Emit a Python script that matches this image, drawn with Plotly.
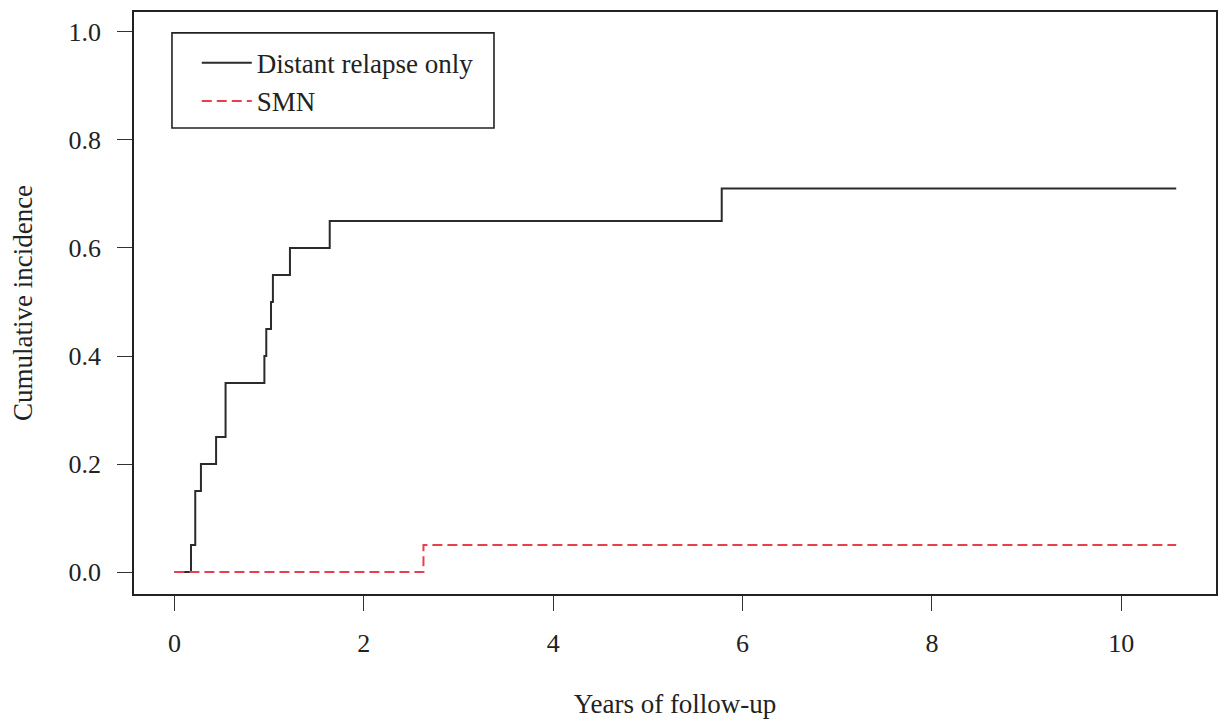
import plotly.graph_objects as go

# Data
relapse_time = [0, 0.175, 0.22, 0.28, 0.44, 0.54, 0.95, 0.97, 1.02, 1.04, 1.22, 1.64, 5.78, 10.58]
relapse_ci = [0, 0.05, 0.15, 0.20, 0.25, 0.35, 0.40, 0.45, 0.50, 0.55, 0.60, 0.65, 0.71, 0.71]
smn_time = [0, 2.63, 10.58]
smn_ci = [0, 0.05, 0.05]
x_ticks = [0, 2, 4, 6, 8, 10]
y_ticks = [0.0, 0.2, 0.4, 0.6, 0.8, 1.0]
y_tick_labels = ["0.0", "0.2", "0.4", "0.6", "0.8", "1.0"]

FONT = "Liberation Serif, Times New Roman, serif"
TXT = "#222222"

fig = go.Figure()
fig.add_trace(go.Scatter(x=relapse_time, y=relapse_ci, mode="lines", line_shape="hv",
                         line=dict(color="#2b2b2b", width=2), name="Distant relapse only"))
fig.add_trace(go.Scatter(x=smn_time, y=smn_ci, mode="lines", line_shape="hv",
                         line=dict(color="#e8404a", width=2, dash="10px,5px"), name="SMN"))

axis_common = dict(showgrid=False, zeroline=False, showline=True, linecolor="#222222", linewidth=1.8,
                   mirror=True, ticks="outside", ticklen=15, tickwidth=1.3, tickcolor="#333333",
                   tickfont=dict(family=FONT, size=26, color=TXT))

fig.update_xaxes(range=[-0.427, 11.0], tickvals=x_ticks, ticktext=[str(v) for v in x_ticks],
                 ticklabelstandoff=10,
                 title=dict(text="Years of follow-up", font=dict(family=FONT, size=27, color=TXT), standoff=40),
                 **axis_common)
fig.update_yaxes(range=[-0.0405, 1.0368], tickvals=y_ticks, ticktext=y_tick_labels,
                 ticklabelstandoff=11,
                 title=dict(text="Cumulative incidence", font=dict(family=FONT, size=27, color=TXT), standoff=28),
                 **axis_common)

fig.add_shape(type="rect", xref="paper", yref="paper", x0=0.0351, x1=0.3327, y0=0.8007, y1=0.9642,
              line=dict(color="#222222", width=1.6), fillcolor="rgba(0,0,0,0)")

fig.update_layout(
    width=1212, height=711,
    margin=dict(l=126, r=2, t=2, b=124),
    paper_bgcolor="white", plot_bgcolor="white",
    showlegend=True,
    legend=dict(x=0.058, y=0.954, xanchor="left", yanchor="top", bgcolor="rgba(0,0,0,0)",
                borderwidth=0, font=dict(family=FONT, size=27, color=TXT), itemwidth=50,
                tracegroupgap=0),
)

fig.write_html("out.html")
